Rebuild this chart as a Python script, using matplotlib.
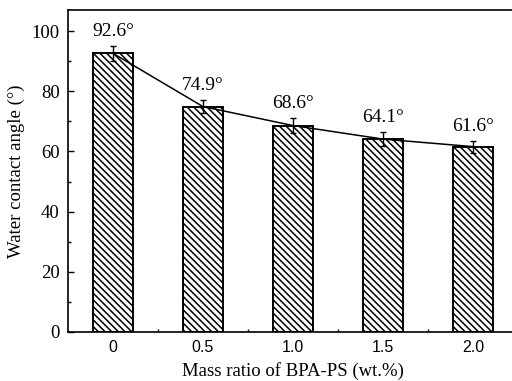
import numpy as np
import matplotlib
matplotlib.use("Agg")
import matplotlib.pyplot as plt
from matplotlib.ticker import MultipleLocator, FixedLocator

# data
ratios = ["0", "0.5", "1.0", "1.5", "2.0"]
angles = [92.6, 74.9, 68.6, 64.1, 61.6]
errors = [2.4, 2.2, 2.5, 2.3, 2.0]

plt.rcParams["hatch.linewidth"] = 1.1

fig = plt.figure(figsize=(5.12, 3.81), dpi=100)
# right spine sits outside the picture, like the cropped original
ax = fig.add_axes([68 / 512, 49 / 381, 450 / 512, 322 / 381])

x = np.arange(len(ratios))
ax.bar(x, angles, width=0.45, color="white", edgecolor="black",
       linewidth=1.4, hatch="\\" * 5, zorder=2)
ax.errorbar(x, angles, yerr=errors, fmt="none", ecolor="black",
            elinewidth=1.0, capsize=2.5, capthick=1.0, zorder=4)
ax.plot(x, angles, color="black", lw=1.1, zorder=3)

for xi, v, e in zip(x, angles, errors):
    ax.text(xi, v + e + 2.0, f"{v}\u00b0", ha="center", va="bottom",
            family="Liberation Serif", fontsize=14)

ax.set_xlim(-0.5, 4.5)
ax.set_ylim(0, 107)
ax.set_xticks(x)
ax.set_xticklabels(ratios, family="Liberation Sans", fontsize=11.5)
ax.xaxis.set_minor_locator(FixedLocator(x[:-1] + 0.5))
ax.yaxis.set_major_locator(MultipleLocator(20))
ax.yaxis.set_minor_locator(MultipleLocator(10))
for lab in ax.get_yticklabels():
    lab.set_family("Liberation Serif")
    lab.set_fontsize(13.5)

ax.tick_params(which="both", direction="in", width=1.0)
ax.tick_params(which="major", length=4, pad=6)
ax.tick_params(which="minor", length=2.5)
ax.tick_params(axis="y", which="both", right=False)
for s in ax.spines.values():
    s.set_linewidth(1.2)

ax.set_xlabel("Mass ratio of BPA-PS (wt.%)", family="Liberation Serif",
              fontsize=13.5, labelpad=5)
ax.set_ylabel("Water contact angle (\u00b0)", family="Liberation Serif",
              fontsize=13.5, labelpad=5)

fig.savefig("out.png", dpi=100)
